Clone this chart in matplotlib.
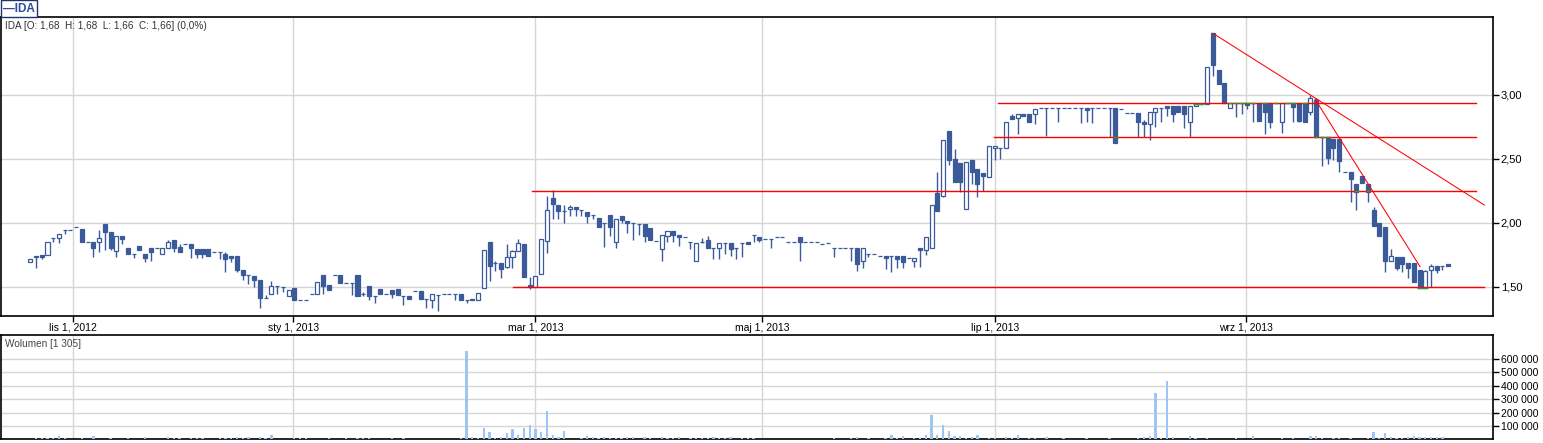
import matplotlib
matplotlib.use("Agg")
import matplotlib.pyplot as plt
import numpy as np
from matplotlib.ticker import FuncFormatter

plt.rcParams['font.family'] = ['Liberation Sans', 'DejaVu Sans']

# daily OHLC of IDA, one value per session (oldest first)
opens = [
    1.69, 1.74, 1.75, 1.75, 1.877, 1.88, 1.94, 1.94, 1.97, 1.95,
    1.846, 1.846, 1.846, 1.99, 1.925, 1.778, 1.90, 1.80, 1.752, 1.815,
    1.752, 1.80, 1.80, 1.752, 1.80, 1.862, 1.808, 1.831, 1.831, 1.795,
    1.795, 1.795, 1.768, 1.768, 1.752, 1.737, 1.737, 1.628, 1.59, 1.581,
    1.552, 1.41, 1.44, 1.508, 1.50, 1.43, 1.487, 1.399, 1.394, 1.44,
    1.44, 1.588, 1.513, 1.588, 1.588, 1.531, 1.531, 1.588, 1.445, 1.503,
    1.43, 1.479, 1.445, 1.471, 1.479, 1.43, 1.425, 1.464, 1.464, 1.406,
    1.399, 1.437, 1.44, 1.44, 1.44, 1.44, 1.394, 1.406, 1.40, 1.487,
    1.849, 1.687, 1.682, 1.651, 1.729, 1.776, 1.83, 1.51, 1.50, 1.596,
    1.86, 2.19, 2.135, 2.089, 2.104, 2.12, 2.096, 2.08, 2.057, 2.034,
    1.995, 2.057, 1.846, 2.049, 2.01, 1.995, 1.987, 1.987, 1.956, 1.859,
    1.792, 1.90, 1.937, 1.901, 1.885, 1.846, 1.698, 1.846, 1.862, 1.805,
    1.805, 1.839, 1.839, 1.80, 1.838, 1.846, 1.901, 1.885, 1.87, 1.87,
    1.885, 1.885, 1.846, 1.846, 1.885, 1.846, 1.846, 1.846, 1.83, 1.838,
    1.80, 1.80, 1.80, 1.80, 1.80, 1.698, 1.753, 1.753, 1.737, 1.737,
    1.737, 1.737, 1.737, 1.721, 1.698, 1.80, 1.79, 1.80, 2.229, 2.21,
    2.714, 2.495, 2.464, 2.104, 2.487, 2.417, 2.386, 2.36, 2.583, 2.583,
    2.58, 2.83, 2.815, 2.846, 2.846, 2.846, 2.90, 2.90, 2.90, 2.90,
    2.90, 2.893, 2.893, 2.893, 2.893, 2.893, 2.893, 2.893, 2.893, 2.893,
    2.885, 2.854, 2.854, 2.854, 2.784, 2.773, 2.862, 2.90, 2.909, 2.909,
    2.909, 2.909, 2.79, 2.909, 2.93, 2.93, 3.48, 3.193, 3.091, 2.90,
    2.932, 2.932, 2.932, 2.932, 2.932, 2.932, 2.932, 2.932, 2.789, 2.932,
    2.932, 2.932, 2.932, 2.862, 2.961, 2.672, 2.672, 2.651, 2.651, 2.398,
    2.396, 2.30, 2.362, 2.30, 2.096, 1.995, 1.969, 1.70, 1.729, 1.729,
    1.682, 1.682, 1.63, 1.487, 1.628, 1.659, 1.659, 1.68,
]
highs = [
    1.72, 1.74, 1.75, 1.85, 1.877, 1.91, 1.94, 1.94, 1.97, 1.95,
    1.846, 1.846, 1.94, 1.99, 1.925, 1.90, 1.90, 1.80, 1.752, 1.815,
    1.752, 1.80, 1.80, 1.80, 1.862, 1.862, 1.831, 1.831, 1.831, 1.795,
    1.795, 1.795, 1.768, 1.768, 1.768, 1.737, 1.737, 1.628, 1.59, 1.581,
    1.552, 1.435, 1.545, 1.508, 1.50, 1.471, 1.487, 1.399, 1.394, 1.44,
    1.54, 1.588, 1.513, 1.588, 1.588, 1.531, 1.531, 1.588, 1.46, 1.503,
    1.43, 1.479, 1.445, 1.471, 1.479, 1.43, 1.425, 1.464, 1.464, 1.406,
    1.445, 1.437, 1.44, 1.44, 1.44, 1.44, 1.394, 1.406, 1.448, 1.79,
    1.849, 1.70, 1.682, 1.83, 1.79, 1.87, 1.83, 1.578, 1.586, 1.87,
    2.208, 2.255, 2.135, 2.135, 2.135, 2.12, 2.096, 2.08, 2.057, 2.034,
    1.995, 2.057, 2.026, 2.049, 2.01, 1.995, 1.987, 1.987, 1.956, 1.859,
    1.901, 1.937, 1.937, 1.901, 1.885, 1.846, 1.839, 1.877, 1.90, 1.805,
    1.839, 1.839, 1.839, 1.80, 1.838, 1.846, 1.901, 1.885, 1.87, 1.87,
    1.885, 1.885, 1.846, 1.846, 1.885, 1.846, 1.846, 1.846, 1.83, 1.838,
    1.80, 1.80, 1.80, 1.80, 1.80, 1.80, 1.753, 1.753, 1.737, 1.737,
    1.737, 1.737, 1.737, 1.721, 1.721, 1.80, 1.885, 2.135, 2.396, 2.643,
    2.714, 2.573, 2.464, 2.471, 2.487, 2.417, 2.386, 2.60, 2.599, 2.583,
    2.79, 2.846, 2.846, 2.846, 2.846, 2.885, 2.90, 2.90, 2.90, 2.90,
    2.90, 2.893, 2.893, 2.893, 2.893, 2.893, 2.893, 2.893, 2.893, 2.893,
    2.885, 2.854, 2.854, 2.854, 2.80, 2.862, 2.90, 2.90, 2.909, 2.909,
    2.909, 2.909, 2.909, 2.93, 2.93, 3.22, 3.48, 3.193, 3.091, 2.932,
    2.932, 2.932, 2.932, 2.932, 2.932, 2.932, 2.932, 2.932, 2.932, 2.932,
    2.932, 2.932, 2.932, 2.997, 2.971, 2.672, 2.672, 2.651, 2.651, 2.398,
    2.396, 2.30, 2.362, 2.30, 2.122, 1.995, 1.969, 1.794, 1.729, 1.729,
    1.682, 1.682, 1.63, 1.63, 1.68, 1.659, 1.659, 1.68,
]
lows = [
    1.69, 1.65, 1.72, 1.75, 1.846, 1.84, 1.914, 1.94, 1.97, 1.846,
    1.846, 1.73, 1.774, 1.79, 1.79, 1.73, 1.836, 1.752, 1.727, 1.79,
    1.695, 1.70, 1.80, 1.752, 1.80, 1.774, 1.774, 1.831, 1.727, 1.727,
    1.727, 1.737, 1.768, 1.72, 1.617, 1.695, 1.617, 1.55, 1.518, 1.50,
    1.33, 1.41, 1.44, 1.445, 1.46, 1.43, 1.399, 1.399, 1.394, 1.44,
    1.44, 1.445, 1.477, 1.588, 1.531, 1.531, 1.435, 1.43, 1.43, 1.40,
    1.375, 1.445, 1.445, 1.41, 1.435, 1.357, 1.406, 1.464, 1.406, 1.336,
    1.33, 1.31, 1.44, 1.44, 1.399, 1.394, 1.375, 1.394, 1.40, 1.487,
    1.547, 1.625, 1.57, 1.643, 1.643, 1.776, 1.578, 1.484, 1.50, 1.596,
    1.766, 2.026, 2.03, 1.995, 2.05, 2.05, 2.05, 1.995, 2.026, 1.969,
    1.81, 1.899, 1.805, 1.995, 1.922, 1.867, 1.907, 1.85, 1.867, 1.859,
    1.703, 1.85, 1.85, 1.815, 1.885, 1.797, 1.698, 1.839, 1.805, 1.719,
    1.719, 1.758, 1.74, 1.719, 1.734, 1.836, 1.846, 1.846, 1.87, 1.80,
    1.885, 1.885, 1.846, 1.846, 1.703, 1.846, 1.846, 1.846, 1.83, 1.838,
    1.73, 1.80, 1.80, 1.698, 1.625, 1.648, 1.735, 1.753, 1.737, 1.64,
    1.617, 1.648, 1.648, 1.721, 1.656, 1.656, 1.75, 1.80, 2.094, 2.203,
    2.45, 2.315, 2.237, 2.104, 2.30, 2.198, 2.25, 2.36, 2.49, 2.50,
    2.58, 2.81, 2.69, 2.83, 2.79, 2.77, 2.90, 2.68, 2.90, 2.79,
    2.90, 2.893, 2.893, 2.78, 2.79, 2.78, 2.893, 2.893, 2.67, 2.625,
    2.885, 2.854, 2.854, 2.667, 2.667, 2.65, 2.75, 2.79, 2.83, 2.79,
    2.862, 2.74, 2.667, 2.909, 2.93, 2.93, 3.15, 3.083, 2.932, 2.90,
    2.823, 2.846, 2.89, 2.789, 2.797, 2.69, 2.74, 2.932, 2.70, 2.932,
    2.79, 2.79, 2.789, 2.84, 2.672, 2.446, 2.456, 2.49, 2.393, 2.398,
    2.164, 2.096, 2.312, 2.164, 1.976, 1.898, 1.612, 1.70, 1.63, 1.612,
    1.565, 1.534, 1.487, 1.487, 1.50, 1.61, 1.628, 1.66,
]
closes = [
    1.72, 1.735, 1.73, 1.85, 1.877, 1.91, 1.94, 1.94, 1.97, 1.846,
    1.846, 1.80, 1.877, 1.925, 1.80, 1.898, 1.87, 1.752, 1.752, 1.79,
    1.727, 1.768, 1.80, 1.80, 1.846, 1.80, 1.774, 1.831, 1.80, 1.752,
    1.752, 1.737, 1.768, 1.768, 1.72, 1.727, 1.628, 1.591, 1.59, 1.55,
    1.409, 1.41, 1.508, 1.508, 1.50, 1.471, 1.399, 1.399, 1.394, 1.44,
    1.54, 1.508, 1.477, 1.588, 1.531, 1.531, 1.531, 1.43, 1.445, 1.43,
    1.43, 1.445, 1.445, 1.445, 1.435, 1.43, 1.406, 1.464, 1.406, 1.406,
    1.445, 1.437, 1.44, 1.44, 1.44, 1.394, 1.394, 1.394, 1.448, 1.79,
    1.664, 1.687, 1.64, 1.734, 1.776, 1.839, 1.578, 1.495, 1.586, 1.87,
    2.096, 2.143, 2.089, 2.089, 2.12, 2.104, 2.096, 2.049, 2.057, 1.969,
    1.995, 1.969, 2.026, 2.018, 1.995, 1.995, 1.987, 1.899, 1.867, 1.859,
    1.901, 1.937, 1.901, 1.885, 1.885, 1.846, 1.839, 1.846, 1.805, 1.805,
    1.839, 1.839, 1.797, 1.80, 1.838, 1.836, 1.901, 1.865, 1.87, 1.87,
    1.885, 1.885, 1.846, 1.846, 1.846, 1.846, 1.846, 1.846, 1.83, 1.838,
    1.80, 1.80, 1.80, 1.80, 1.68, 1.80, 1.753, 1.753, 1.737, 1.727,
    1.737, 1.719, 1.695, 1.721, 1.721, 1.789, 1.885, 2.135, 2.094, 2.643,
    2.487, 2.315, 2.315, 2.471, 2.393, 2.30, 2.365, 2.60, 2.599, 2.583,
    2.79, 2.81, 2.846, 2.83, 2.79, 2.885, 2.90, 2.90, 2.90, 2.90,
    2.90, 2.893, 2.893, 2.893, 2.883, 2.893, 2.893, 2.893, 2.893, 2.625,
    2.885, 2.854, 2.854, 2.789, 2.773, 2.862, 2.90, 2.90, 2.90, 2.846,
    2.862, 2.852, 2.909, 2.93, 2.93, 3.22, 3.23, 3.083, 2.932, 2.932,
    2.932, 2.932, 2.922, 2.932, 2.797, 2.862, 2.789, 2.932, 2.932, 2.932,
    2.906, 2.797, 2.789, 2.971, 2.672, 2.672, 2.503, 2.581, 2.484, 2.398,
    2.339, 2.242, 2.312, 2.242, 1.976, 1.898, 1.703, 1.737, 1.643, 1.674,
    1.643, 1.534, 1.487, 1.622, 1.659, 1.628, 1.659, 1.66,
]
volumes = [
    0, 10000, 10000, 10000, 10000, 25000, 10000, 0, 0, 10000,
    0, 25000, 0, 0, 10000, 0, 0, 10000, 0, 0,
    17000, 0, 0, 0, 17000, 10000, 10000, 0, 10000, 10000,
    10000, 0, 0, 10000, 10000, 10000, 17000, 12000, 17000, 0,
    17000, 10000, 32000, 0, 0, 0, 10000, 10000, 10000, 0,
    0, 0, 10000, 0, 0, 10000, 0, 10000, 10000, 10000,
    0, 0, 0, 10000, 0, 10000, 0, 0, 0, 0,
    0, 0, 0, 0, 0, 10000, 660000, 17000, 10000, 84000,
    54000, 10000, 17000, 47000, 77000, 32000, 84000, 104000, 77000, 54000,
    210000, 32000, 17000, 62000, 0, 0, 10000, 25000, 17000, 10000,
    17000, 10000, 10000, 10000, 17000, 17000, 0, 17000, 10000, 0,
    17000, 10000, 10000, 17000, 0, 10000, 10000, 10000, 10000, 17000,
    10000, 10000, 17000, 0, 10000, 10000, 10000, 0, 0, 0,
    0, 0, 0, 0, 0, 0, 0, 0, 0, 0,
    10000, 0, 0, 10000, 17000, 0, 10000, 0, 0, 10000,
    32000, 10000, 25000, 0, 10000, 10000, 32000, 180000, 32000, 104000,
    62000, 25000, 25000, 10000, 17000, 32000, 0, 10000, 10000, 0,
    17000, 10000, 32000, 0, 10000, 10000, 0, 17000, 0, 0,
    10000, 0, 0, 0, 10000, 0, 0, 0, 10000, 0,
    0, 0, 0, 10000, 17000, 25000, 343000, 10000, 437000, 17000,
    0, 0, 25000, 10000, 0, 10000, 0, 0, 0, 0,
    10000, 0, 0, 25000, 0, 0, 0, 0, 10000, 0,
    10000, 0, 0, 25000, 25000, 10000, 0, 10000, 10000, 0,
    10000, 0, 0, 10000, 54000, 10000, 47000, 17000, 10000, 10000,
    17000, 25000, 17000, 17000, 17000, 17000, 17000, 1305,
]

# month ticks (session number)
month_pos = [7.5, 45.8, 88, 127.5, 168, 211.7]
month_labels = ['lis 1, 2012', 'sty 1, 2013', 'mar 1, 2013',
                'maj 1, 2013', 'lip 1, 2013', 'wrz 1, 2013']

# horizontal support / resistance lines: level, first and last session
levels = [1.495, 2.245, 2.667, 2.935]
level_from = [84.1, 87.4, 167.9, 168.6]
level_to = [253.3, 251.9, 251.9, 251.9]

# trend lines: (session, price) endpoints
trend_long = [(206.0, 3.48), (253.3, 2.138)]
trend_steep = [(223.8, 2.966), (242.1, 1.656)]

# candle edges that sit on a drawn level (shown in green)
touch_idx = [189, 203, 204, 209, 210, 211, 212, 213, 215, 217, 219, 220,
             222, 224, 225, 226, 231, 233, 242, 243]
touch_lvl = [2.667, 2.93, 2.93, 2.932, 2.932, 2.932, 2.932, 2.932, 2.932,
             2.932, 2.932, 2.932, 2.932, 2.672, 2.672, 2.672, 2.245, 2.245,
             1.49, 1.49]

blue = '#3b5a9a'
grid_c = '#d6d6d6'
W, H = 1543, 443

fig = plt.figure(figsize=(W / 100, H / 100), dpi=100)
ax = fig.add_axes([1 / W, (H - 316.3) / H, 1492 / W, (316.3 - 17) / H])
axv = fig.add_axes([1 / W, (H - 439.4) / H, 1492 / W, (439.4 - 335) / H])

x = np.arange(len(opens))
o = np.array(opens)
c = np.array(closes)
up = c >= o

ax.vlines(x, lows, highs, color=blue, lw=1, zorder=3)
ax.bar(x[up], (c - o)[up], bottom=o[up], width=0.7, facecolor='white',
       edgecolor=blue, lw=0.9, zorder=4)
ax.bar(x[~up], (c - o)[~up], bottom=o[~up], width=0.7, facecolor=blue,
       edgecolor=blue, lw=0.9, zorder=4)

for lv, a, b in zip(levels, level_from, level_to):
    ax.plot([a, b], [lv, lv], color='#ff0000', lw=1.0, zorder=5)
for tl in (trend_long, trend_steep):
    ax.plot([tl[0][0], tl[1][0]], [tl[0][1], tl[1][1]], color='#ff0000',
            lw=0.75, zorder=5)
ax.hlines(touch_lvl, np.array(touch_idx) - 0.4, np.array(touch_idx) + 0.4,
          color='#2ca02c', lw=1.0, zorder=6)

ax.set_xlim(-5.1, 254.8)
ax.set_ylim(1.269, 3.607)
ax.set_xticks(month_pos)
ax.set_xticklabels(month_labels, fontsize=7.5)
ax.set_yticks([1.5, 2.0, 2.5, 3.0])
ax.yaxis.set_major_formatter(FuncFormatter(lambda v, p: f'{v:.2f}'.replace('.', ',')))
ax.yaxis.tick_right()
ax.tick_params(axis='both', length=4, width=1, labelsize=8, pad=1.5)
ax.tick_params(axis='x', labelsize=7.5, pad=0.5)
ax.grid(True, color=grid_c, lw=1)
ax.set_axisbelow(True)
for s in ax.spines.values():
    s.set_linewidth(1.2)

axv.bar(x, volumes, width=0.4, color='#9ec6f5', zorder=3)
axv.set_xlim(-5.1, 254.8)
axv.set_ylim(0, 779000)
axv.set_xticks(month_pos)
axv.set_xticklabels([])
axv.tick_params(axis='x', length=0)
axv.set_yticks([100000, 200000, 300000, 400000, 500000, 600000])
axv.yaxis.set_major_formatter(FuncFormatter(lambda v, p: f'{int(v):,}'.replace(',', ' ')))
axv.yaxis.tick_right()
axv.tick_params(axis='y', length=4, width=1, labelsize=7.5, pad=1.5)
axv.grid(True, color=grid_c, lw=1)
axv.set_axisbelow(True)
for s in axv.spines.values():
    s.set_linewidth(1.2)

def num(v):
    return f'{v:.2f}'.replace('.', ',')

header = (f'IDA [O: {num(opens[-1])}  H: {num(highs[-1])}  L: {num(lows[-1])}  '
          f'C: {num(closes[-1])}] (0,0%)')
fig.text(5 / W, 1 - 26 / H, header, fontsize=7.2, color='#333333', va='center')
fig.text(5 / W, 1 - 344 / H, f'Wolumen [{volumes[-1]:,}]'.replace(',', ' '),
         fontsize=7.2, color='#444444', va='center')
fig.text(3 / W, 1 - 8.5 / H, '\u2014IDA', fontsize=8.5, fontweight='bold',
         color='#2a4c9c', va='center',
         bbox=dict(boxstyle='square,pad=0.2', fc='white', ec='#1f3566', lw=1))

fig.savefig('out.png', dpi=100)
